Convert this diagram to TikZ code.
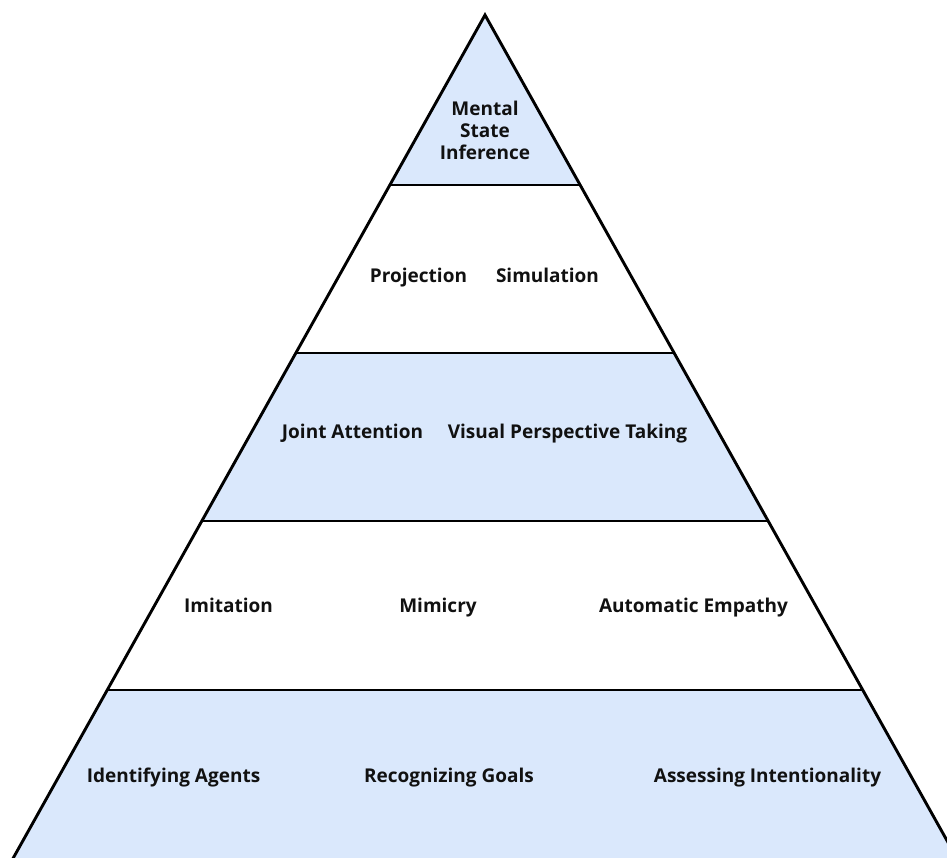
\documentclass[tikz,border=0pt]{standalone}
\usepackage{fontspec}
\setmainfont{Open Sans}
\definecolor{layerblue}{HTML}{DAE8FC}
\definecolor{textdark}{HTML}{111111}
\begin{document}
\begin{tikzpicture}[x=1pt,y=-1pt,
  lbl/.style={font=\bfseries\fontsize{19}{23}\selectfont, text=textdark, anchor=base, inner sep=0pt},
  edge/.style={line width=2.9pt, line join=miter, line cap=butt},
  bluefill/.style={fill=layerblue, draw=none}]
\useasboundingbox (0,0) rectangle (947,857);
\clip (0,0) rectangle (947,857);
% layer boundary coordinates
\coordinate (apex) at (485,15);
\coordinate (L1) at (390,185);   \coordinate (R1) at (580,185);
\coordinate (L2) at (296,353);   \coordinate (R2) at (674,353);
\coordinate (L3) at (202,521);   \coordinate (R3) at (768,521);
\coordinate (L4) at (107.5,690); \coordinate (R4) at (862.5,690);
\coordinate (L5) at (11,862);    \coordinate (R5) at (959,862);
% blue layers
\fill[bluefill] (apex) -- (L1) -- (R1) -- cycle;
\fill[bluefill] (L2) -- (L3) -- (R3) -- (R2) -- cycle;
\fill[bluefill] (L4) -- (L5) -- (R5) -- (R4) -- cycle;
% outline
\draw[edge] (L5) -- (apex) -- (R5);
\draw[edge] (L1) -- (R1);
\draw[edge] (L2) -- (R2);
\draw[edge] (L3) -- (R3);
\draw[edge] (L4) -- (R4);
% labels
\node[lbl] (msi1) at (485,115) {Mental};
\node[lbl] (msi2) at (485,137) {State};
\node[lbl] (msi3) at (485,159) {Inference};
\node[lbl] (proj) at (418.5,282) {Projection};
\node[lbl] (simu) at (547.5,282) {Simulation};
\node[lbl] (joint) at (352.5,438) {Joint Attention};
\node[lbl] (vpt) at (567.5,438) {Visual Perspective Taking};
\node[lbl] (imit) at (228.5,612) {Imitation};
\node[lbl] (mimi) at (438,612) {Mimicry};
\node[lbl] (autoemp) at (693.5,612) {Automatic Empathy};
\node[lbl] (idag) at (173.5,782) {Identifying Agents};
\node[lbl] (recg) at (449,782) {Recognizing Goals};
\node[lbl] (assi) at (767.5,782) {Assessing Intentionality};
\end{tikzpicture}
\end{document}
